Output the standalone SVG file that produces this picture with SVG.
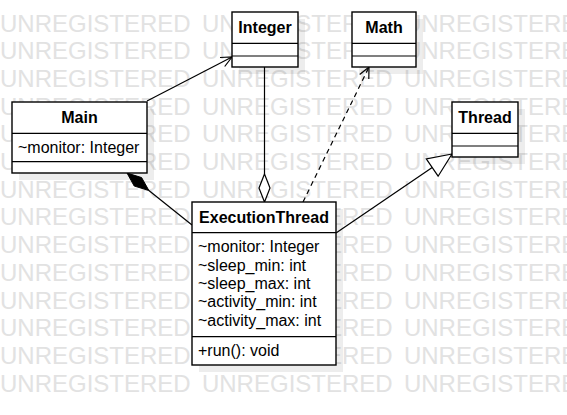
<svg xmlns="http://www.w3.org/2000/svg" width="567" height="415" viewBox="0 0 567 415">
<style>
.wm{font-family:"Liberation Sans",Arial,sans-serif;font-size:24px;fill:#e2e2e2;word-spacing:4.6px}
.box{fill:#fff;stroke:#000;stroke-width:1.4}
.sh{fill:#000;fill-opacity:0.07}
.sep{stroke:#000;stroke-width:1.2}
.t{font-family:"Liberation Sans",Arial,sans-serif;font-size:16px;font-weight:bold;fill:#000;text-anchor:middle}
.a{font-family:"Liberation Sans",Arial,sans-serif;font-size:16px;fill:#000}
.ln{fill:none;stroke:#000;stroke-width:1.2}
</style>
<rect width="567" height="415" fill="#fff"/>
<g id="watermark">
<text class="wm" x="0" y="31.5">UNREGISTERED UNREGISTERED UNREGISTERED</text>
<text class="wm" x="0" y="59.2">UNREGISTERED UNREGISTERED UNREGISTERED</text>
<text class="wm" x="0" y="86.9">UNREGISTERED UNREGISTERED UNREGISTERED</text>
<text class="wm" x="0" y="114.6">UNREGISTERED UNREGISTERED UNREGISTERED</text>
<text class="wm" x="0" y="142.3">UNREGISTERED UNREGISTERED UNREGISTERED</text>
<text class="wm" x="0" y="170">UNREGISTERED UNREGISTERED UNREGISTERED</text>
<text class="wm" x="0" y="197.7">UNREGISTERED UNREGISTERED UNREGISTERED</text>
<text class="wm" x="0" y="225.4">UNREGISTERED UNREGISTERED UNREGISTERED</text>
<text class="wm" x="0" y="253.1">UNREGISTERED UNREGISTERED UNREGISTERED</text>
<text class="wm" x="0" y="280.8">UNREGISTERED UNREGISTERED UNREGISTERED</text>
<text class="wm" x="0" y="308.5">UNREGISTERED UNREGISTERED UNREGISTERED</text>
<text class="wm" x="0" y="336.2">UNREGISTERED UNREGISTERED UNREGISTERED</text>
<text class="wm" x="0" y="363.9">UNREGISTERED UNREGISTERED UNREGISTERED</text>
<text class="wm" x="0" y="391.6">UNREGISTERED UNREGISTERED UNREGISTERED</text>
</g>
<g id="connectors">
<!-- Main -> Integer association -->
<line class="ln" x1="147" y1="101" x2="232" y2="57"/>
<polyline class="ln" points="220,57.5 232,57 224.7,66.5"/>
<!-- Integer <>- ExecutionThread aggregation -->
<line class="ln" x1="264.5" y1="67" x2="264.5" y2="174"/>
<polygon points="264.5,174 270,188 264.5,202 259,188" fill="#fff" stroke="#000" stroke-width="1.2"/>
<!-- ExecutionThread -> Math dependency -->
<line class="ln" x1="303" y1="202" x2="369" y2="67" stroke-dasharray="5,4"/>
<polyline class="ln" points="359.7,74.5 369,67 368.8,79"/>
<!-- ExecutionThread -> Thread generalization -->
<line class="ln" x1="336" y1="233" x2="432.2" y2="167.5"/>
<polygon points="452,154 438.1,176.2 426.3,158.8" fill="#fff" stroke="#000" stroke-width="1.2"/>
<!-- Main <#>- ExecutionThread composition -->
<line class="ln" x1="148.9" y1="190.5" x2="192" y2="225"/>
<polygon points="127,173 141.6,177.6 148.9,190.5 134.2,186" fill="#000" stroke="#000" stroke-width="1"/>
</g>
<g id="node-main">
<rect class="sh" x="19" y="109" width="135" height="71"/>
<rect class="box" x="12" y="102" width="135" height="71"/>
<line class="sep" x1="12" y1="133.3" x2="147" y2="133.3"/>
<line class="sep" x1="12" y1="161.7" x2="147" y2="161.7"/>
<text class="t" x="79.5" y="123">Main</text>
<text class="a" x="18" y="153">~monitor: Integer</text>
</g>
<g id="node-integer">
<rect class="sh" x="239" y="19" width="66" height="55"/>
<rect class="box" x="232" y="12" width="66" height="55"/>
<line class="sep" x1="232" y1="43.3" x2="298" y2="43.3"/>
<line class="sep" x1="232" y1="56" x2="298" y2="56"/>
<text class="t" x="265" y="33">Integer</text>
</g>
<g id="node-math">
<rect class="sh" x="359" y="19" width="64" height="55"/>
<rect class="box" x="352" y="12" width="64" height="55"/>
<line class="sep" x1="352" y1="43.3" x2="416" y2="43.3"/>
<line class="sep" x1="352" y1="56" x2="416" y2="56"/>
<text class="t" x="384" y="33">Math</text>
</g>
<g id="node-thread">
<rect class="sh" x="459" y="109" width="66" height="55"/>
<rect class="box" x="452" y="102" width="66" height="55"/>
<line class="sep" x1="452" y1="133.3" x2="518" y2="133.3"/>
<line class="sep" x1="452" y1="146" x2="518" y2="146"/>
<text class="t" x="485" y="123">Thread</text>
</g>
<g id="node-executionthread">
<rect class="sh" x="199" y="209" width="144" height="163"/>
<rect class="box" x="192" y="202" width="144" height="163"/>
<line class="sep" x1="192" y1="232.7" x2="336" y2="232.7"/>
<line class="sep" x1="192" y1="336.7" x2="336" y2="336.7"/>
<text class="t" x="264" y="223">ExecutionThread</text>
<text class="a" x="198" y="252">~monitor: Integer</text>
<text class="a" x="198" y="270.5">~sleep_min: int</text>
<text class="a" x="198" y="289">~sleep_max: int</text>
<text class="a" x="198" y="307">~activity_min: int</text>
<text class="a" x="198" y="325.5">~activity_max: int</text>
<text class="a" x="198" y="356">+run(): void</text>
</g>
</svg>
